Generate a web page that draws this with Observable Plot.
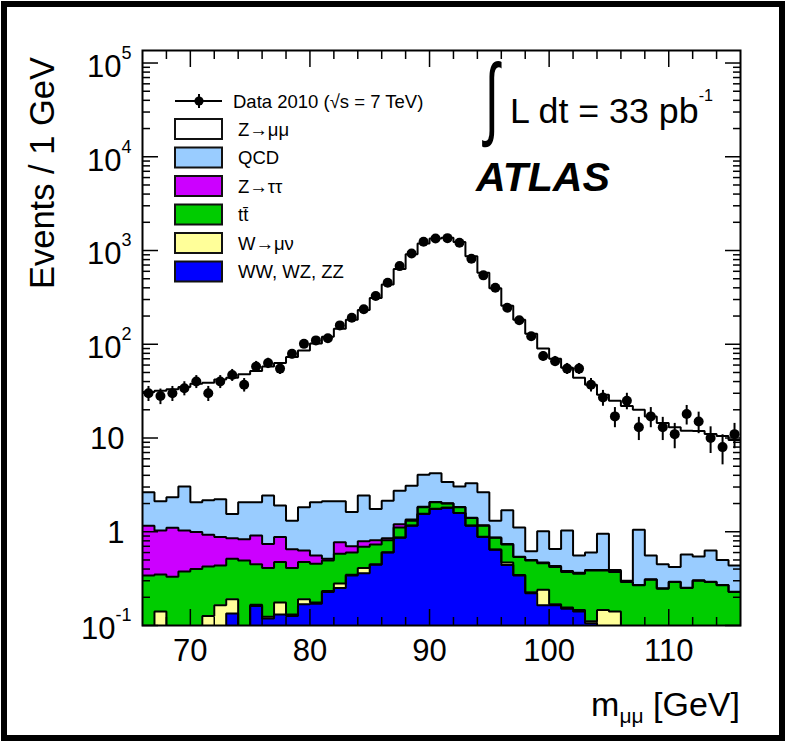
<!DOCTYPE html>
<html>
<head>
<meta charset="utf-8">
<script src="https://cdn.jsdelivr.net/npm/d3@7"></script>
<script src="https://cdn.jsdelivr.net/npm/@observablehq/plot@0.6"></script>
<style>
  html, body { margin: 0; padding: 0; background: #fff; }
  #wrap { position: relative; width: 786px; height: 742px; overflow: hidden; background: #fff; }
  #wrap svg { position: absolute; left: 0; top: 0; }
</style>
</head>
<body>
<div id="wrap"></div>
<script>
// ---------- data (1 GeV bins from 66 to 116 GeV) ----------
const binLow = d3.range(66, 116);

const dataEvents = [30, 28, 30, 34, 40, 30, 40, 47, 37, 58,
  63, 55, 79, 101, 110, 116, 159, 192, 236, 327,
  453, 682, 931, 1238, 1346, 1355, 1208, 816, 543, 401,
  245, 180, 122, 75, 66, 55, 55, 37, 27, 17,
  25, 13, 17, 13, 11, 18, 15, 10, 8, 11];

const zmumu = [28.4, 29.9, 30.7, 32.0, 35.9, 36.8, 39.8, 42.5, 45.9, 49.9,
  55.6, 61.1, 71.7, 84.2, 99.9, 117.9, 143.9, 180.4, 229.6, 310.3,
  432.9, 632.3, 906.9, 1186, 1336, 1367, 1227, 867, 577, 394,
  256, 181, 129, 89, 69.3, 55, 43.4, 36.4, 28, 24.6,
  21.7, 19, 16.4, 14, 12.6, 11.4, 11.3, 10.4, 10, 9.1];

const qcd = [1.47, 1.08, 1.23, 2.0, 1.07, 1.24, 1.34, 0.70, 1.23, 1.15,
  1.69, 1.02, 0.66, 1.20, 1.50, 1.60, 1.34, 0.92, 1.64, 0.94,
  1.29, 1.54, 1.75, 2.2, 2.13, 1.39, 1.19, 1.89, 1.46, 0.44,
  0.96, 0.57, 0.12, 0.54, 0.225, 0.65, 0.192, 0.21, 0.56, 0.015,
  0.008, 0.78, 0.247, 0.202, 0.128, 0.318, 0.243, 0.338, 0.23, 0.208];

const ztautau = [0.819, 0.68, 0.77, 0.655, 0.59, 0.505, 0.444, 0.335, 0.337, 0.46,
  0.33, 0.405, 0.24, 0.155, 0.102, 0.022, 0.19, 0.10, 0.10, 0.08,
  0.04, 0.09, 0.04, 0.02, 0.01, 0.01, 0.01, 0.01, 0.01, 0.01,
  0.01, 0.005, 0.007, 0.01, 0.01, 0.01, 0.01, 0.005, 0.005, 0.005,
  0.002, 0.003, 0.003, 0.002, 0.002, 0.002, 0.002, 0.002, 0.003, 0.002];

const ttbar = [0.301, 0.21, 0.29, 0.335, 0.36, 0.30, 0.273, 0.325, 0.443, 0.285,
  0.287, 0.30, 0.28, 0.285, 0.28, 0.261, 0.30, 0.254, 0.28, 0.28,
  0.205, 0.245, 0.145, 0.275, 0.305, 0.195, 0.245, 0.235, 0.275, 0.215,
  0.26, 0.191, 0.268, 0.22, 0.252, 0.215, 0.21, 0.275, 0.24, 0.23,
  0.245, 0.222, 0.272, 0.211, 0.265, 0.225, 0.275, 0.265, 0.242, 0.201];

const wmunu = [0.01, 0.11, 0.01, 0.01, 0.01, 0.095, 0.133, 0.057, 0.01, 0.005,
  0.005, 0.045, 0.005, 0.022, 0.005, 0.005, 0.03, 0.005, 0.05, 0.005,
  0.005, 0.005, 0.005, 0.005, 0.005, 0.005, 0.005, 0.005, 0.005, 0.005,
  0.03, 0.005, 0.005, 0.077, 0.005, 0.005, 0.005, 0.005, 0.085, 0.09,
  0.005, 0.005, 0.005, 0.005, 0.005, 0.005, 0.005, 0.005, 0.005, 0.005];

const diboson = [0.03, 0.03, 0.03, 0.03, 0.03, 0.03, 0.03, 0.133, 0.04, 0.16,
  0.118, 0.13, 0.125, 0.168, 0.17, 0.227, 0.25, 0.341, 0.36, 0.445,
  0.6, 0.86, 1.16, 1.55, 1.75, 1.8, 1.58, 1.16, 0.88, 0.64,
  0.44, 0.34, 0.22, 0.163, 0.163, 0.15, 0.14, 0.105, 0.06, 0.05,
  0.04, 0.04, 0.03, 0.03, 0.02, 0.02, 0.02, 0.02, 0.02, 0.02];

// stacking order, bottom to top
const seriesNames  = ["WW, WZ, ZZ", "W\u2192\u03bc\u03bd", "tt\u0304", "Z\u2192\u03c4\u03c4", "QCD", "Z\u2192\u03bc\u03bc"];
const seriesColors = ["#0000ff", "#ffff99", "#00cc00", "#cc00ff", "#99ccff", "#ffffff"];
const seriesValues = [diboson, wmunu, ttbar, ztautau, qcd, zmumu];

// axes
const xMajor = [70, 80, 90, 100, 110];
const xMinor = [68, 72, 74, 76, 78, 82, 84, 86, 88, 92, 94, 96, 98, 102, 104, 106, 108, 112, 114];
const yMajor = [0.1, 1, 10, 100, 1000, 10000, 100000];
const yLabelBase = ["10", "1", "10", "10", "10", "10", "10"];
const yLabelExp  = ["-1", "", "", "2", "3", "4", "5"];
const yMinor = [];
for (let e = -1; e <= 4; e++) for (let k = 2; k <= 9; k++) yMinor.push(k * Math.pow(10, e));

// ---------- build stacked layers ----------
const floor = 1e-3;
let cum = binLow.map(() => floor);
const layers = seriesValues.map((vals) => {
  const pts = binLow.map((x, i) => ({x, lo: cum[i], hi: cum[i] + vals[i]}));
  cum = pts.map(p => p.hi);
  pts.push({x: 116, lo: pts[pts.length - 1].lo, hi: pts[pts.length - 1].hi});
  return pts;
});
const dataRows = binLow.map((x, i) => ({xc: x + 0.5, n: dataEvents[i]}));
const yLab = yMajor.map((v, i) => ({v, base: yLabelBase[i], exp: yLabelExp[i]}));

const marks = [];
layers.forEach((pts, s) => marks.push(Plot.areaY(pts, {x: "x", y1: "lo", y2: "hi", curve: "step-after", fill: seriesColors[s], clip: true})));
layers.forEach((pts) => marks.push(Plot.line(pts, {x: "x", y: "hi", curve: "step-after", stroke: "black", strokeWidth: 2, strokeLinejoin: "miter", clip: true})));
marks.push(Plot.ruleX(dataRows, {x: "xc", y1: d => d.n - Math.sqrt(d.n), y2: d => d.n + Math.sqrt(d.n), stroke: "black", strokeWidth: 2, clip: true}));
marks.push(Plot.dot(dataRows, {x: "xc", y: "n", r: 5, fill: "black", stroke: "none"}));
marks.push(Plot.frame({stroke: "black", strokeWidth: 2}));
// inward ticks on all four sides (no text)
for (const a of ["bottom", "top"]) {
  marks.push(Plot.axisX({ticks: xMajor, anchor: a, tickSize: -16, fill: "none", label: null, strokeWidth: 1.5}));
  marks.push(Plot.axisX({ticks: xMinor, anchor: a, tickSize: -8, fill: "none", label: null, strokeWidth: 1.5}));
}
for (const a of ["left", "right"]) {
  marks.push(Plot.axisY({ticks: yMajor, anchor: a, tickSize: -16, fill: "none", label: null, strokeWidth: 1.5}));
  marks.push(Plot.axisY({ticks: yMinor, anchor: a, tickSize: -8, fill: "none", label: null, strokeWidth: 1.5}));
}
marks.push(Plot.axisX({ticks: xMajor, anchor: "bottom", tickSize: 0, tickPadding: 13, fontSize: 31, label: null, tickFormat: d => String(d)}));
// y tick labels ROOT style (10 with exponent)
marks.push(Plot.text(yLab.filter(d => d.exp.length === 1), {y: "v", text: "base", frameAnchor: "left", textAnchor: "end", dx: -21, dy: 4, fontSize: 31}));
marks.push(Plot.text(yLab.filter(d => d.exp.length === 1), {y: "v", text: "exp", frameAnchor: "left", textAnchor: "end", dx: -11, dy: -10, fontSize: 18}));
marks.push(Plot.text(yLab.filter(d => d.exp.length === 2), {y: "v", text: "base", frameAnchor: "left", textAnchor: "end", dx: -27, dy: 4, fontSize: 31}));
marks.push(Plot.text(yLab.filter(d => d.exp.length === 2), {y: "v", text: "exp", frameAnchor: "left", textAnchor: "end", dx: -11, dy: -10, fontSize: 18}));
marks.push(Plot.text(yLab.filter(d => d.exp === ""), {y: "v", text: "base", frameAnchor: "left", textAnchor: "end", dx: -18, dy: 1, fontSize: 31}));

const chart = Plot.plot({
  width: 786, height: 742,
  marginLeft: 142, marginRight: 46, marginTop: 50, marginBottom: 117,
  x: {domain: [66, 116]},
  y: {type: "log", domain: [0.1, 1.36e5]},
  style: {fontFamily: "'Liberation Sans', Arial, Helvetica, sans-serif", color: "black", background: "white", overflow: "visible"},
  marks
});
document.getElementById("wrap").appendChild(chart);

// ---------- overlay: titles, legend, annotations, border ----------
const ov = d3.select("#wrap").append("svg")
  .attr("width", 786).attr("height", 742)
  .style("font-family", "'Liberation Sans', Arial, Helvetica, sans-serif");

// y title
ov.append("text").attr("transform", "translate(54,173) rotate(-90)")
  .attr("text-anchor", "middle").attr("font-size", 34.5).text("Events / 1 GeV");

// x title
const xt = ov.append("text").attr("x", 740).attr("y", 716).attr("text-anchor", "end").attr("font-size", 34);
xt.append("tspan").text("m");
xt.append("tspan").attr("font-size", 21).attr("dy", 7).text("\u03bc\u03bc");
xt.append("tspan").attr("dy", -7).text(" [GeV]");

// luminosity: tall thin integral sign
ov.append("text").attr("transform", "translate(492,128) scale(0.75,1.3)").attr("text-anchor", "middle")
  .attr("font-family", "'Liberation Sans', Arial, sans-serif").attr("font-size", 70).text("\u222b");
const lt = ov.append("text").attr("x", 510).attr("y", 123).attr("font-size", 35.5)
  .attr("textLength", 203).attr("lengthAdjust", "spacingAndGlyphs");
lt.append("tspan").text("L dt = 33 pb");
lt.append("tspan").attr("font-size", 16).attr("dy", -22).text("-1");

// ATLAS
ov.append("text").attr("x", 476).attr("y", 191).attr("font-size", 40)
  .attr("font-weight", "bold").attr("font-style", "italic")
  .attr("textLength", 134).attr("lengthAdjust", "spacingAndGlyphs").text("ATLAS");

// legend
const rowY = [101, 129, 157.5, 186, 214.5, 243, 271.5];
const lg = ov.append("g");
lg.append("line").attr("x1", 175).attr("x2", 222).attr("y1", rowY[0]).attr("y2", rowY[0]).attr("stroke", "black").attr("stroke-width", 2);
lg.append("line").attr("x1", 199).attr("x2", 199).attr("y1", rowY[0] - 7).attr("y2", rowY[0] + 7).attr("stroke", "black").attr("stroke-width", 2);
lg.append("circle").attr("cx", 199).attr("cy", rowY[0]).attr("r", 4.6).attr("fill", "black");
lg.append("text").attr("x", 233).attr("y", rowY[0] + 6.5).attr("font-size", 18.5).text("Data 2010 (\u221as = 7 TeV)");
const legOrder = seriesNames.map((n, i) => i).reverse();
legOrder.forEach((s, k) => {
  const cy = rowY[k + 1];
  lg.append("rect").attr("x", 175).attr("y", cy - 10).attr("width", 47).attr("height", 20)
    .attr("fill", seriesColors[s]).attr("stroke", "#111").attr("stroke-width", 2);
  lg.append("text").attr("x", 238).attr("y", cy + 6.5).attr("font-size", 18.5).text(seriesNames[s]);
});

// outer border
ov.append("rect").attr("x", 4).attr("y", 4).attr("width", 778).attr("height", 734)
  .attr("fill", "none").attr("stroke", "black").attr("stroke-width", 6);
</script>
</body>
</html>
